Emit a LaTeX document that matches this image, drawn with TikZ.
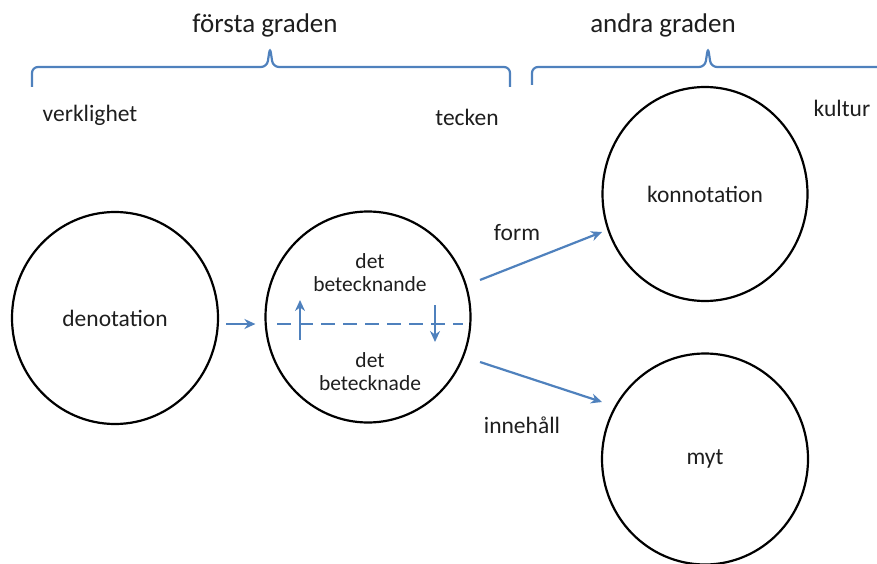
\documentclass[tikz,border=0pt]{standalone}
\usepackage{fontspec}
\setmainfont{Carlito}
\usetikzlibrary{arrows.meta,shapes.geometric,calc}
\definecolor{lineblue}{RGB}{79,129,189}
\definecolor{textgray}{RGB}{30,30,30}
\tikzset{
    lbl/.style={text=textgray,font=\fontsize{23.5}{27}\selectfont,inner sep=0pt},
    grad/.style={text=textgray,font=\fontsize{27}{30}\selectfont,inner sep=0pt},
    inner/.style={text=textgray,font=\fontsize{21.5}{23}\selectfont,align=center,inner sep=0pt},
    ring/.style={lbl,ellipse,draw=black,line width=2.2pt,minimum width=206pt,minimum height=212pt},
    bline/.style={draw=lineblue,line width=2.2pt},
    arr/.style={bline,-{Stealth[length=11pt,width=10pt]}}
}
\begin{document}
\begin{tikzpicture}[x=1pt,y=-1pt]
        \useasboundingbox (0,0) rectangle (877,564);

        \draw[bline,rounded corners=6pt] (32,87) |- (267,67) -- (270,47) -- (273,67) -| (510,87);
        \draw[bline,rounded corners=6pt] (532,85) |- (705,67) -- (708,47) -- (711,67) -- (877,67);

        \node[grad] (forsta) at (265,25) {första graden};
        \node[grad] (andra) at (663,25) {andra graden};

        \node[lbl] (verk) at (90,115) {verklighet};
        \node[lbl] (teck) at (467,117) {tecken};
        \node[lbl] (kult) at (842,108) {kultur};

        \node[ring] (den) at (115,318) {denotation};
        \node[ring,minimum width=205pt,minimum height=211pt] (mid) at (368,317) {};
        \node[ring,minimum width=205pt,minimum height=214pt] (kon) at (705,194) {konnotation};
        \node[ring,minimum height=211pt] (myt) at (705,459) {myt};

        \node[inner] (sig) at (370,273) {det\\betecknande};
        \node[inner] (sigd) at (370,372) {det\\betecknade};

        \coordinate (dl) at (277,324);
        \coordinate (dr) at (463,324);
        \draw[bline,dash pattern=on 14pt off 8pt] (dl) -- (dr);
        \draw[arr] ($(dl)+(23,16)$) -- ($(dl)+(23,-24)$);
        \draw[arr] ($(dr)+(-28,-19)$) -- ($(dr)+(-28,18)$);

        \draw[arr] ($(den.east)+(7,6)$) -- ($(mid.west)+(-9,7)$);

        \node[lbl] (form) at (517,233) {form};
        \node[lbl] (inneh) at (522,425) {innehåll};
        \draw[arr] ($(mid)+(112,-37)$) -- ($(kon)+(-103,38)$);
        \draw[arr] ($(mid)+(112,45)$) -- ($(myt)+(-103,-57)$);
\end{tikzpicture}
\end{document}
